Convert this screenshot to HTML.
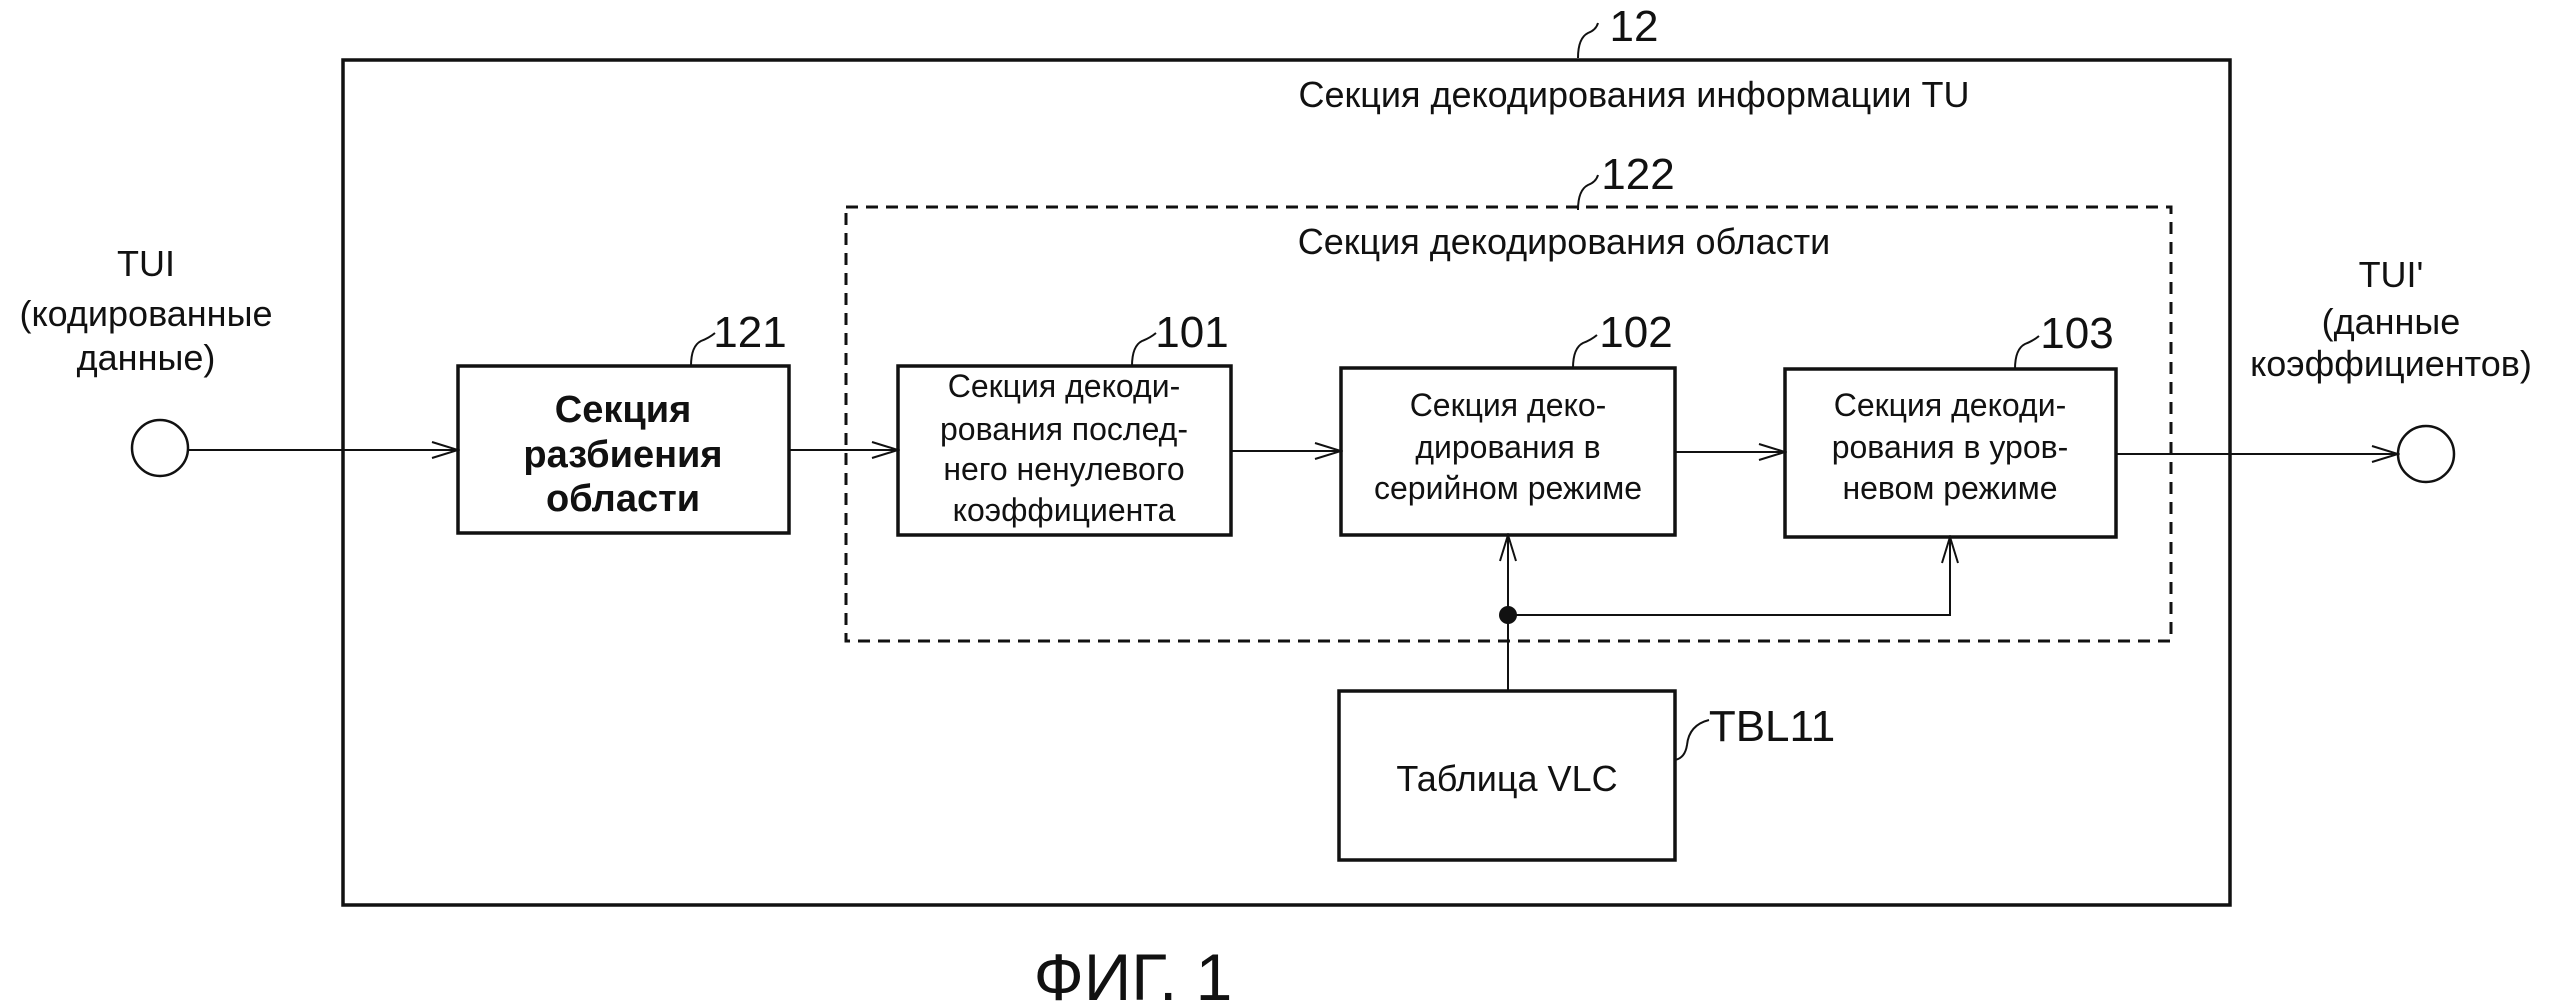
<!DOCTYPE html>
<html><head><meta charset="utf-8"><style>
html,body{margin:0;padding:0;background:#fff;}
svg{display:block;}
text{font-family:"Liberation Sans Narrow","Liberation Sans",sans-serif;fill:#111;}
</style></head><body>
<svg width="2552" height="1008" viewBox="0 0 2552 1008" xmlns="http://www.w3.org/2000/svg">
<defs>
<marker id="a" markerWidth="30" markerHeight="20" refX="28" refY="10" orient="auto" markerUnits="userSpaceOnUse">
<path d="M2,2 L28,10 L2,18" fill="none" stroke="#111" stroke-width="2"/>
</marker>
</defs>
<g fill="none" stroke="#111">
<rect x="343" y="60" width="1887" height="845" stroke-width="3.5"/>
<rect x="846" y="207" width="1325" height="434" stroke-width="3" stroke-dasharray="12,8"/>
<rect x="458" y="366" width="331" height="167" stroke-width="3.5"/>
<rect x="898" y="366" width="333" height="169" stroke-width="3.5"/>
<rect x="1341" y="368" width="334" height="167" stroke-width="3.5"/>
<rect x="1785" y="369" width="331" height="168" stroke-width="3.5"/>
<rect x="1339" y="691" width="336" height="169" stroke-width="3.5"/>
<ellipse cx="160" cy="448" rx="28" ry="28" stroke-width="2.5"/>
<ellipse cx="2426" cy="454" rx="28" ry="28" stroke-width="2.5"/>
<g stroke-width="2">
<line x1="188" y1="450" x2="458" y2="450" marker-end="url(#a)"/>
<line x1="789" y1="450" x2="898" y2="450" marker-end="url(#a)"/>
<line x1="1231" y1="451" x2="1341" y2="451" marker-end="url(#a)"/>
<line x1="1675" y1="452" x2="1785" y2="452" marker-end="url(#a)"/>
<line x1="2116" y1="454" x2="2398" y2="454" marker-end="url(#a)"/>
<line x1="1508" y1="691" x2="1508" y2="535" marker-end="url(#a)"/>
<polyline points="1508,615 1950,615 1950,537" marker-end="url(#a)"/>
<path d="M1578,58 q0,-20 10,-25 q8,-3 10,-10"/>
<path d="M1578,210 q0,-20 10,-25 q8,-3 10,-10"/>
<path d="M691,366 q0,-20 10,-25 q8,-3 14,-8"/>
<path d="M1132,366 q0,-20 10,-25 q8,-3 14,-8"/>
<path d="M1573,368 q0,-20 10,-25 q8,-3 14,-8"/>
<path d="M2015,369 q0,-20 10,-25 q8,-3 14,-8"/>
<path d="M1675,760 q10,-2 12,-15 q2,-20 22,-25"/>
</g>
</g>
<circle cx="1508" cy="615" r="9" fill="#111"/>
<g font-size="36">
<text x="1634" y="41" text-anchor="middle" font-size="44">12</text>
<text x="1634" y="107" text-anchor="middle">Секция декодирования информации TU</text>
<text x="1638" y="189" text-anchor="middle" font-size="44">122</text>
<text x="1564" y="254" text-anchor="middle">Секция декодирования области</text>
<text x="750" y="347" text-anchor="middle" font-size="44">121</text>
<text x="1192" y="347" text-anchor="middle" font-size="44">101</text>
<text x="1636" y="347" text-anchor="middle" font-size="44">102</text>
<text x="2077" y="348" text-anchor="middle" font-size="44">103</text>
<text x="1772" y="741" text-anchor="middle" font-size="44">TBL11</text>
<text x="146" y="276" text-anchor="middle">TUI</text>
<text x="146" y="326" text-anchor="middle">(кодированные</text>
<text x="146" y="370" text-anchor="middle">данные)</text>
<text x="2391" y="287" text-anchor="middle">TUI'</text>
<text x="2391" y="334" text-anchor="middle">(данные</text>
<text x="2391" y="376" text-anchor="middle">коэффициентов)</text>
<g text-anchor="middle" font-size="38" font-weight="bold">
<text x="623" y="422">Секция</text>
<text x="623" y="467">разбиения</text>
<text x="623" y="511">области</text>
</g>
<g text-anchor="middle" font-size="32">
<text x="1064" y="397">Секция декоди-</text>
<text x="1064" y="440">рования послед-</text>
<text x="1064" y="480">него ненулевого</text>
<text x="1064" y="521">коэффициента</text>
<text x="1508" y="416">Секция деко-</text>
<text x="1508" y="458">дирования в</text>
<text x="1508" y="499">серийном режиме</text>
<text x="1950" y="416">Секция декоди-</text>
<text x="1950" y="458">рования в уров-</text>
<text x="1950" y="499">невом режиме</text>
</g>
<text x="1507" y="791" text-anchor="middle">Таблица VLC</text>
<text x="1133" y="1000" text-anchor="middle" font-size="66" font-family="Liberation Sans,sans-serif">ФИГ. 1</text>
</g>
</svg>
</body></html>
